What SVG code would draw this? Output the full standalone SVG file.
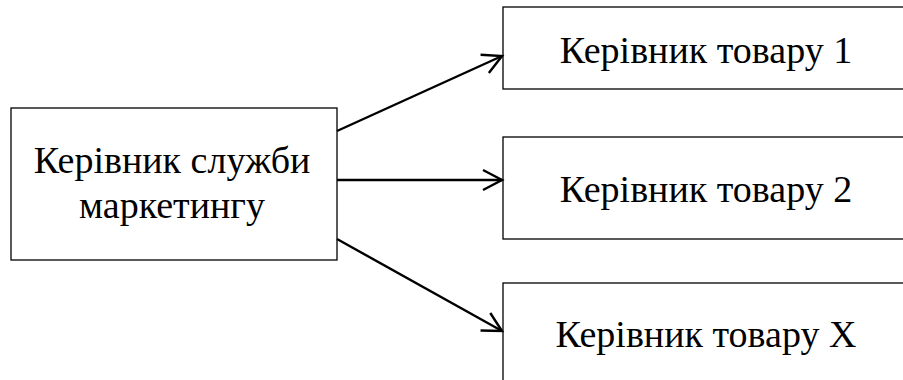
<svg xmlns="http://www.w3.org/2000/svg" width="903" height="380" viewBox="0 0 903 380">
<style>
.box{fill:#fff;stroke:#000;stroke-width:1.3}
.t{font-family:"Liberation Serif","Times New Roman",serif;font-size:38px;fill:#000;text-anchor:middle}
.c{fill:none;stroke:#000;stroke-width:2.4}
</style>
<defs>
<marker id="ah" markerUnits="userSpaceOnUse" markerWidth="24" markerHeight="24" refX="20" refY="11" orient="auto" viewBox="0 0 24 22">
<path d="M1,1 L20,11 L1,21" fill="none" stroke="#000" stroke-width="2.4"/>
</marker>
</defs>
<rect width="903" height="380" fill="#fff"/>
<g id="n0">
<rect class="box" x="11" y="108" width="326" height="152"/>
<text class="t" x="172" y="173">Керівник служби</text>
<text class="t" x="172" y="218">маркетингу</text>
</g>
<g id="n1">
<rect class="box" x="503" y="7" width="410" height="82"/>
<text class="t" x="706" y="63">Керівник товару 1</text>
</g>
<g id="n2">
<rect class="box" x="503" y="137" width="410" height="102"/>
<text class="t" x="706" y="202">Керівник товару 2</text>
</g>
<g id="n3">
<rect class="box" x="503" y="283" width="410" height="110"/>
<text class="t" x="706" y="347">Керівник товару X</text>
</g>
<g id="connectors">
<line class="c" x1="337" y1="131" x2="502" y2="56" marker-end="url(#ah)"/>
<line class="c" x1="337" y1="180" x2="502" y2="180" marker-end="url(#ah)"/>
<line class="c" x1="337" y1="239" x2="502" y2="331" marker-end="url(#ah)"/>
</g>
</svg>
